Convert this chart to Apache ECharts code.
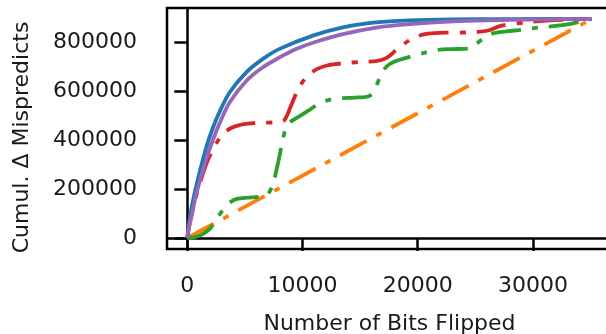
<!DOCTYPE html>
<html>
<head>
<meta charset="utf-8">
<script src="https://cdn.jsdelivr.net/npm/echarts@6/dist/echarts.min.js"></script>
<style>
  html, body { margin: 0; padding: 0; background: #fff; }
  #chart { width: 606px; height: 334px; }
</style>
</head>
<body>
<div id="chart"></div>
<script>
// Cumulative change in mispredictions as bits are flipped, one curve per strategy.
const xTicks = [0, 10000, 20000, 30000];
const yTicks = [0, 200000, 400000, 600000, 800000];

const blueBits = [0, 150, 350, 780, 1650, 2220, 2800, 3670, 5120, 6560, 8010, 10900, 13500, 16390, 19280, 23000, 28000, 35100];
const blueCumul = [0, 60000, 118000, 213000, 370000, 450000, 515000, 594000, 676000, 731000, 772000, 826000, 860000, 880000, 888000, 892000, 893500, 894000];

const orangeBits = [0, 35100];
const orangeCumul = [0, 894000];

const greenBits = [0, 600, 1100, 1600, 2000, 2500, 3100, 3700, 4300, 5200, 6200, 6900, 7400, 7800, 8200, 8500, 8900, 9500, 10500, 11500, 12500, 13500, 14500, 15800, 16300, 16800, 17300, 18000, 19000, 20500, 21800, 23000, 24400, 25000, 25700, 26500, 27700, 29000, 30500, 32000, 33000, 34200, 35100];
const greenCumul = [0, 3000, 10000, 24000, 40000, 75000, 115000, 145000, 160000, 165000, 168000, 175000, 215000, 290000, 380000, 440000, 472000, 490000, 520000, 550000, 566000, 571000, 573000, 580000, 610000, 665000, 700000, 720000, 735000, 755000, 768000, 771000, 773000, 790000, 815000, 835000, 843000, 850000, 859000, 866000, 872000, 884000, 894000];

const redBits = [0, 150, 400, 800, 1300, 1800, 2500, 3100, 3800, 4600, 5500, 6500, 7600, 8400, 9000, 9600, 10300, 11200, 12200, 13500, 15200, 16400, 17300, 18200, 19200, 20000, 20900, 22500, 24500, 25400, 26200, 27200, 29400, 31500, 35100];
const redCumul = [0, 45000, 100000, 175000, 255000, 320000, 385000, 425000, 449000, 462000, 468000, 471000, 472000, 480000, 540000, 605000, 655000, 688000, 705000, 713000, 719000, 722000, 735000, 770000, 805000, 824000, 834000, 838000, 839000, 842000, 848000, 866000, 880000, 888000, 894000];

const purpleBits = [0, 150, 400, 780, 1650, 2220, 2800, 3670, 5120, 6560, 8010, 9400, 10900, 13500, 16390, 19280, 23620, 28000, 35100];
const purpleCumul = [0, 45000, 95000, 180000, 322000, 400000, 468000, 553000, 641000, 697000, 737000, 770000, 797000, 832000, 859000, 873000, 885000, 890000, 894000];

function pairs(xs, ys) { return xs.map((x, i) => [x, ys[i]]); }

const dashDot = [30, 11, 6, 11];
const font = 'DejaVu Sans';
const ink = '#1a1a1a';

const chart = echarts.init(document.getElementById('chart'), null, { renderer: 'canvas' });

function line(name, color, data, dashed) {
  return {
    name: name,
    type: 'line',
    data: data,
    showSymbol: false,
    smooth: 0.3,
    animation: false,
    lineStyle: { color: color, width: 3.8, type: dashed ? dashDot : 'solid', cap: 'butt' },
    z: 3
  };
}

chart.setOption({
  animation: false,
  grid: {
    left: 167, top: 8, right: -6, bottom: 85,
    outerBoundsMode: 'none',
    show: true, borderColor: '#000', borderWidth: 2.5, backgroundColor: 'transparent'
  },
  xAxis: {
    type: 'value',
    min: -1760, max: 36860,
    name: 'Number of Bits Flipped',
    nameLocation: 'middle',
    nameGap: 64,
    nameTextStyle: { fontFamily: font, fontSize: 22, color: ink },
    axisLine: { show: true, lineStyle: { color: '#000', width: 2.5 } },
    axisTick: { show: true, length: 13, lineStyle: { color: '#000', width: 2.5 }, customValues: xTicks },
    axisLabel: { fontFamily: font, fontSize: 22, color: ink, margin: 26, customValues: xTicks, formatter: v => String(v) },
    splitLine: { show: false }
  },
  yAxis: {
    type: 'value',
    min: -44700, max: 938700,
    name: 'Cumul. Δ Mispredicts',
    nameLocation: 'middle',
    nameRotate: 90,
    nameGap: 134,
    nameTextStyle: { fontFamily: font, fontSize: 22, color: ink, padding: [0, 18, 0, 0] },
    axisLine: { show: true, lineStyle: { color: '#000', width: 2.5 } },
    axisTick: { show: true, length: 13, lineStyle: { color: '#000', width: 2.5 }, customValues: yTicks },
    axisLabel: { fontFamily: font, fontSize: 22, color: ink, margin: 30, customValues: yTicks, formatter: v => String(v) },
    splitLine: { show: false }
  },
  series: [
    line('blue', '#1f77b4', pairs(blueBits, blueCumul), false),
    line('orange', '#ff7f0e', pairs(orangeBits, orangeCumul), true),
    line('green', '#2ca02c', pairs(greenBits, greenCumul), true),
    line('red', '#d62728', pairs(redBits, redCumul), true),
    line('purple', '#9467bd', pairs(purpleBits, purpleCumul), false)
  ]
});
</script>
</body>
</html>
